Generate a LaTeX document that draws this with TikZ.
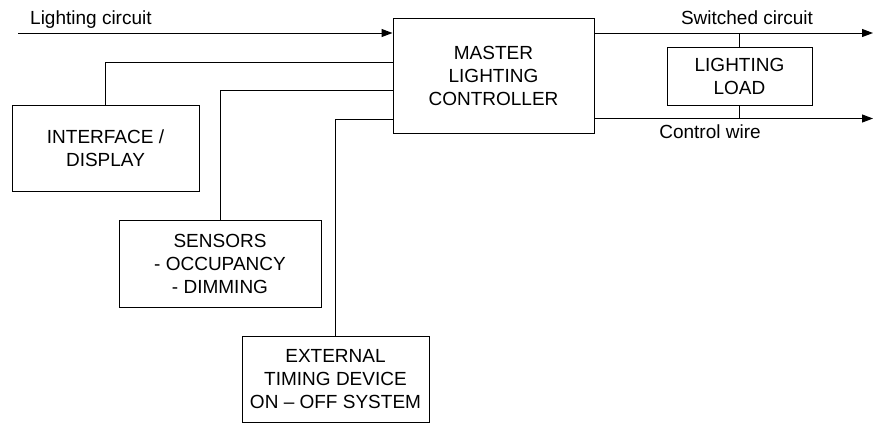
\documentclass[tikz,border=0pt]{standalone}
\usepackage{fontspec}
\setmainfont{Liberation Sans}
\usetikzlibrary{arrows.meta}
\begin{document}
\begin{tikzpicture}[x=1pt,y=-1pt,
  wire/.style={line width=1pt,draw=black},
  feed/.style={wire,-{Triangle[length=11pt,width=8pt]}},
  block/.style={draw=black,line width=1pt,rectangle,inner sep=0pt,align=center,
    font=\fontsize{19}{23}\selectfont},
  lbl/.style={inner sep=0pt,font=\fontsize{19}{23}\selectfont}]
\useasboundingbox (0,0) rectangle (873,424);

% blocks
\node[block,minimum width=201pt,minimum height=115pt] (master) at (493.5,75.5)
  {MASTER\\LIGHTING\\CONTROLLER};
\node[block,minimum width=187pt,minimum height=86pt] (iface) at (105.5,148)
  {INTERFACE /\\DISPLAY};
\node[block,minimum width=202pt,minimum height=87pt] (sensors) at (220,263.5)
  {SENSORS\\- OCCUPANCY\\- DIMMING};
\node[block,minimum width=187pt,minimum height=86pt] (ext) at (335.5,379)
  {EXTERNAL\\TIMING DEVICE\\ON -- OFF SYSTEM};
\node[block,minimum width=145pt,minimum height=58pt] (load) at (739.5,76)
  {LIGHTING\\LOAD};

% wire end points
\coordinate (lcin) at (18,33);
\coordinate (swout) at (873,33);
\coordinate (cwout) at (873,118.5);
\coordinate (mi) at (master.west |- 0,62);
\coordinate (ms) at (master.west |- 0,90);
\coordinate (me) at (master.west |- 0,119);

% incoming supply
\draw[feed] (lcin) -- (master.west |- lcin);
\node[lbl,anchor=base west] (lclbl) at (30,24.5) {Lighting circuit};

% inputs to the controller
\draw[wire] (iface.north) |- (mi);
\draw[wire] (sensors.north) |- (ms);
\draw[wire] (ext.north) |- (me);

% outputs
\draw[feed] (master.east |- swout) -- (swout);
\draw[feed] (master.east |- cwout) -- (cwout);
\draw[wire] (load.north) -- (load.north |- swout);
\draw[wire] (load.south) -- (load.south |- cwout);
\node[lbl,anchor=base] (swlbl) at (747,24.5) {Switched circuit};
\node[lbl,anchor=base] (cwlbl) at (710,138) {Control wire};
\end{tikzpicture}
\end{document}
